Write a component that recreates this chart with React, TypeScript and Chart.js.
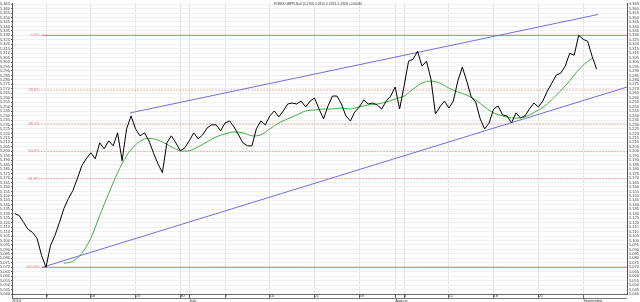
import React, { useEffect, useRef } from 'react';
import { Chart, registerables } from 'chart.js';

Chart.register(...registerables);

const TITLE = 'FOREX GBPPLN=X (5.2763, 5.2813, 5.2763, 5.2763) +0.00030';

// x axis unit: trading day index, 0 = Mon 2 June 2014
const X_MIN = 1.2;
const X_MAX = 69.9;
const Y_MIN = 5.04;
const Y_MAX = 5.366;

const PRICE_START_DAY = 1.5;
const PRICE_STEP = 0.5;
const price = [
  5.1302, 5.1280, 5.1202, 5.1124, 5.1090, 5.1023, 5.0834, 5.0700, 5.0945, 5.1057,
  5.1202, 5.1358, 5.1470, 5.1559, 5.1693, 5.1838, 5.1916, 5.1983, 5.1916, 5.2095,
  5.2028, 5.2117, 5.2061, 5.2206, 5.1894, 5.2251, 5.2396, 5.2251, 5.2173, 5.2206,
  5.2117, 5.1983, 5.1860, 5.1760, 5.2095, 5.2173, 5.2095, 5.2005, 5.2039, 5.2117,
  5.2206, 5.2139, 5.2184, 5.2262, 5.2296, 5.2296, 5.2229, 5.2318, 5.2340, 5.2273,
  5.2184, 5.2095, 5.2061, 5.2061, 5.2251, 5.2340, 5.2296, 5.2396, 5.2452, 5.2385,
  5.2452, 5.2530, 5.2541, 5.2530, 5.2563, 5.2497, 5.2563, 5.2597, 5.2474, 5.2363,
  5.2508, 5.2619, 5.2619, 5.2530, 5.2396, 5.2340, 5.2441, 5.2497, 5.2575, 5.2530,
  5.2541, 5.2519, 5.2474, 5.2563, 5.2619, 5.2720, 5.2474, 5.2731, 5.3010, 5.3032,
  5.3121, 5.2954, 5.3010, 5.2809, 5.2418, 5.2497, 5.2563, 5.2485, 5.2563, 5.2787,
  5.2943, 5.2787, 5.2608, 5.2552, 5.2363, 5.2251, 5.2318, 5.2474, 5.2508, 5.2407,
  5.2396, 5.2318, 5.2430, 5.2374, 5.2396, 5.2474, 5.2541, 5.2497, 5.2563, 5.2675,
  5.2764, 5.2854, 5.2876, 5.2954, 5.3099, 5.3077, 5.3300, 5.3255, 5.3233, 5.3066,
  5.2921,
];

const MA_START_DAY = 7;
const MA_STEP = 1;
const movingAverage = [
  5.0744, 5.0767, 5.0856, 5.1023, 5.1280, 5.1526, 5.1760, 5.1950, 5.2072, 5.2139,
  5.2139, 5.2106, 5.2050, 5.2006, 5.2006, 5.2050, 5.2106, 5.2162, 5.2195, 5.2217,
  5.2206, 5.2173, 5.2184, 5.2251, 5.2318, 5.2363, 5.2407, 5.2452, 5.2463, 5.2474,
  5.2474, 5.2485, 5.2474, 5.2497, 5.2519, 5.2530, 5.2552, 5.2586, 5.2619, 5.2697,
  5.2764, 5.2787, 5.2764, 5.2709, 5.2664, 5.2630, 5.2575, 5.2497, 5.2430, 5.2396,
  5.2374, 5.2374, 5.2407, 5.2463, 5.2530, 5.2630, 5.2731, 5.2854, 5.2965, 5.3043,
];

const FIB_HIGH = 5.33;
const FIB_LOW = 5.07;
const FIB_START_DAY = 4.5;
const fibPercents = [0, 23.6, 38.2, 50.0, 61.8, 100];
const fibLabels = ['0.0%', '23.6%', '38.2%', '50.0%', '61.8%', '100.0%'];

const channelLowerDays = [4.6, 69.9];
const channelLowerValues = [5.07, 5.2720];
const channelUpperDays = [14.39, 66.68];
const channelUpperValues = [5.2430, 5.3534];

const xTickDays = [1.2, 5, 10, 15, 20, 21, 25, 30, 35, 40, 44, 45, 50, 55, 60, 65];
const xTickLabels: (string | string[])[] = [
  ['', '2014'], '9', '16', '23', '30', ['', 'July'], '7', '14', '21', '28',
  ['', 'August'], '4', '11', '18', '25', ['', 'September'],
];

const yTicks = [
  5.040, 5.045, 5.050, 5.055, 5.060, 5.065, 5.070, 5.075, 5.080, 5.085,
  5.090, 5.095, 5.100, 5.105, 5.110, 5.115, 5.120, 5.125, 5.130, 5.135,
  5.140, 5.145, 5.150, 5.155, 5.160, 5.165, 5.170, 5.175, 5.180, 5.185,
  5.190, 5.195, 5.200, 5.205, 5.210, 5.215, 5.220, 5.225, 5.230, 5.235,
  5.240, 5.245, 5.250, 5.255, 5.260, 5.265, 5.270, 5.275, 5.280, 5.285,
  5.290, 5.295, 5.300, 5.305, 5.310, 5.315, 5.320, 5.325, 5.330, 5.335,
  5.340, 5.345, 5.350, 5.355, 5.360, 5.365,
];

const FONT = "'Liberation Sans', Arial, sans-serif";
const RED = '#e0686b';
const BLUE = '#6f6fe0';
const GREEN = '#3cb043';

const fibValue = (p: number) => FIB_HIGH - (p / 100) * (FIB_HIGH - FIB_LOW);

export default function App() {
  const ref = useRef<HTMLCanvasElement>(null);

  useEffect(() => {
    const canvas = ref.current;
    if (!canvas) return;

    const overlay = {
      id: 'overlay',
      afterDatasetsDraw(chart: any) {
        const { ctx, scales, chartArea } = chart;
        const x = scales.x;
        const y = scales.y;
        ctx.save();
        ctx.font = `4px ${FONT}`;
        ctx.fillStyle = RED;
        ctx.textAlign = 'right';
        ctx.textBaseline = 'middle';
        fibPercents.forEach((p, i) => {
          ctx.fillText(fibLabels[i], x.getPixelForValue(FIB_START_DAY) - 2, y.getPixelForValue(fibValue(p)));
        });
        ctx.fillStyle = '#333';
        ctx.textAlign = 'center';
        ctx.textBaseline = 'top';
        ctx.font = `4px ${FONT}`;
        ctx.fillText(TITLE, 318, 1.5, 88);
        ctx.strokeStyle = '#777';
        ctx.lineWidth = 1;
        ctx.beginPath();
        ctx.moveTo(chartArea.left, Math.round(chartArea.bottom) + 4.5);
        ctx.lineTo(chartArea.right, Math.round(chartArea.bottom) + 4.5);
        ctx.stroke();
        ctx.restore();
      },
    };

    const fibSets = fibPercents.map((p, i) => ({
      label: fibLabels[i],
      data: [
        { x: FIB_START_DAY, y: fibValue(p) },
        { x: X_MAX, y: fibValue(p) },
      ],
      borderColor: RED,
      borderWidth: 1,
      borderDash: p === 0 || p === 100 ? [] : [1, 2],
      pointRadius: 0,
    }));

    const chart = new Chart(canvas, {
      type: 'line',
      data: {
        datasets: [
          {
            label: 'price',
            data: price.map((v, i) => ({ x: PRICE_START_DAY + i * PRICE_STEP, y: v })),
            borderColor: '#000',
            borderWidth: 1,
            pointRadius: 0,
            tension: 0,
          },
          {
            label: 'ma',
            data: movingAverage.map((v, i) => ({ x: MA_START_DAY + i * MA_STEP, y: v })),
            borderColor: GREEN,
            borderWidth: 1,
            pointRadius: 0,
            tension: 0.3,
          },
          {
            label: 'upper',
            data: channelUpperDays.map((d, i) => ({ x: d, y: channelUpperValues[i] })),
            borderColor: BLUE,
            borderWidth: 1,
            pointRadius: 0,
          },
          {
            label: 'lower',
            data: channelLowerDays.map((d, i) => ({ x: d, y: channelLowerValues[i] })),
            borderColor: BLUE,
            borderWidth: 1,
            pointRadius: 0,
          },
          ...fibSets,
        ],
      },
      options: {
        responsive: false,
        animation: false,
        events: [],
        layout: { padding: 0 },
        plugins: { legend: { display: false }, tooltip: { enabled: false }, title: { display: false } },
        scales: {
          x: {
            type: 'linear',
            min: X_MIN,
            max: X_MAX,
            afterBuildTicks: (s: any) => {
              s.ticks = xTickDays.map((v) => ({ value: v }));
            },
            afterFit: (s: any) => {
              s.height = 8;
            },
            ticks: {
              autoSkip: false,
              maxRotation: 0,
              align: 'start',
              padding: -4,
              color: '#333',
              font: { size: 4, family: FONT, lineHeight: 1.1 },
              callback: (_v: any, i: number) => xTickLabels[i],
            },
            grid: { color: '#e4e4e4', tickColor: '#666', tickLength: 4, lineWidth: 1 },
            border: { color: '#666' },
          },
          y: {
            type: 'linear',
            position: 'left',
            min: Y_MIN,
            max: Y_MAX,
            afterBuildTicks: (s: any) => {
              s.ticks = yTicks.map((v) => ({ value: v }));
            },
            afterFit: (s: any) => {
              s.width = 12;
            },
            ticks: {
              autoSkip: false,
              padding: 1,
              color: '#444',
              font: { size: 4, family: FONT, lineHeight: 1.1 },
              callback: (v: any) => Number(v).toFixed(3),
            },
            grid: { color: '#f0f0f0', tickColor: '#666', tickLength: 1 },
            border: { color: '#555' },
          },
          y2: {
            type: 'linear',
            position: 'right',
            min: Y_MIN,
            max: Y_MAX,
            afterBuildTicks: (s: any) => {
              s.ticks = yTicks.map((v) => ({ value: v }));
            },
            afterFit: (s: any) => {
              s.width = 13;
            },
            ticks: {
              autoSkip: false,
              padding: 1,
              color: '#444',
              font: { size: 4, family: FONT, lineHeight: 1.1 },
              callback: (v: any) => Number(v).toFixed(3),
            },
            grid: { drawOnChartArea: false, tickColor: '#666', tickLength: 1 },
            border: { color: '#555' },
          },
        },
      },
      plugins: [overlay],
    } as any);

    return () => chart.destroy();
  }, []);

  return (
    <div style={{ position: 'fixed', left: 0, top: 0, width: 640, height: 302, background: '#fff' }}>
      <canvas ref={ref} width={640} height={302} style={{ display: 'block' }} />
    </div>
  );
}
